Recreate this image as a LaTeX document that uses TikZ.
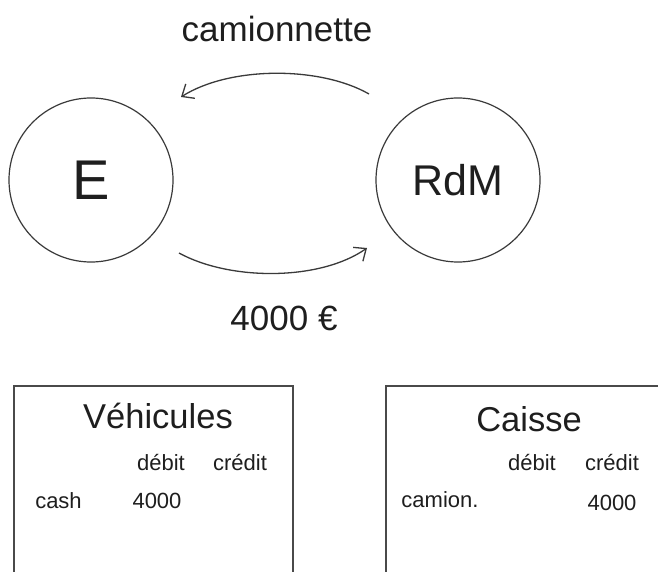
\documentclass[tikz,border=0pt]{standalone}
\usepackage{fontspec}
\setmainfont{Liberation Sans}
\usetikzlibrary{arrows.meta}
\definecolor{ink}{HTML}{1E1E1E}
\definecolor{linegray}{HTML}{3A3A3A}
\definecolor{boxgray}{HTML}{4A4A4A}
\begin{document}
\begin{tikzpicture}[x=1pt,y=-1pt,
  party/.style={circle, draw=linegray, line width=1.2pt, minimum size=164pt,
    inner sep=0pt, text=ink},
  flow/.style={draw=linegray, line width=1.3pt,
    -{Straight Barb[length=10pt,width=17pt,line width=1.3pt]}},
  account/.style={draw=boxgray, line width=1.2pt},
  bigtxt/.style={anchor=base, inner sep=0pt, text=ink,
    font=\fontsize{35}{42}\selectfont},
  titletxt/.style={anchor=base, inner sep=0pt, text=ink,
    font=\fontsize{34.5}{40}\selectfont},
  celltxt/.style={anchor=base, inner sep=0pt, text=ink,
    font=\fontsize{22}{26}\selectfont}]
  % page frame
  \useasboundingbox (0,0) rectangle (658,572);
  \clip (0,0) rectangle (658,572);
  \fill[white] (0,0) rectangle (658,572);

  % the two parties
  \node[party, font=\fontsize{56}{60}\selectfont] (E) at (91,180) {E};
  \node[party, font=\fontsize{43}{50}\selectfont] (RdM) at (458,180) {RdM};

  % exchange arrows
  \coordinate (topstart) at (369,94);
  \coordinate (topend) at (181,97);
  \coordinate (botstart) at (179,253);
  \coordinate (botend) at (367,248);
  \draw[flow] (topstart) .. controls (320,66) and (230,66) .. (topend);
  \draw[flow] (botstart) .. controls (230,281) and (320,281) .. (botend);

  \node[bigtxt] (goods) at (277,41.7) {camionnette};
  \node[bigtxt] (money) at (284,330) {4000 €};

  % T-accounts
  \draw[account] (14,640) -- (14,386) -- (293,386) -- (293,640);
  \draw[account] (386,640) -- (386,386) -- (700,386);

  \node[titletxt] (vtitle) at (158,428.5) {Véhicules};
  \node[celltxt] (vdeb) at (161,470) {débit};
  \node[celltxt] (vcred) at (240,470) {crédit};
  \node[celltxt] (vrow) at (58.5,508.3) {cash};
  \node[celltxt] (vamt) at (157,508.3) {4000};

  \node[titletxt] (ctitle) at (529,431.7) {Caisse};
  \node[celltxt] (cdeb) at (532,470) {débit};
  \node[celltxt] (ccred) at (612,470) {crédit};
  \node[celltxt] (crow) at (440,507.7) {camion.};
  \node[celltxt] (camt) at (612,510) {4000};
\end{tikzpicture}
\end{document}
